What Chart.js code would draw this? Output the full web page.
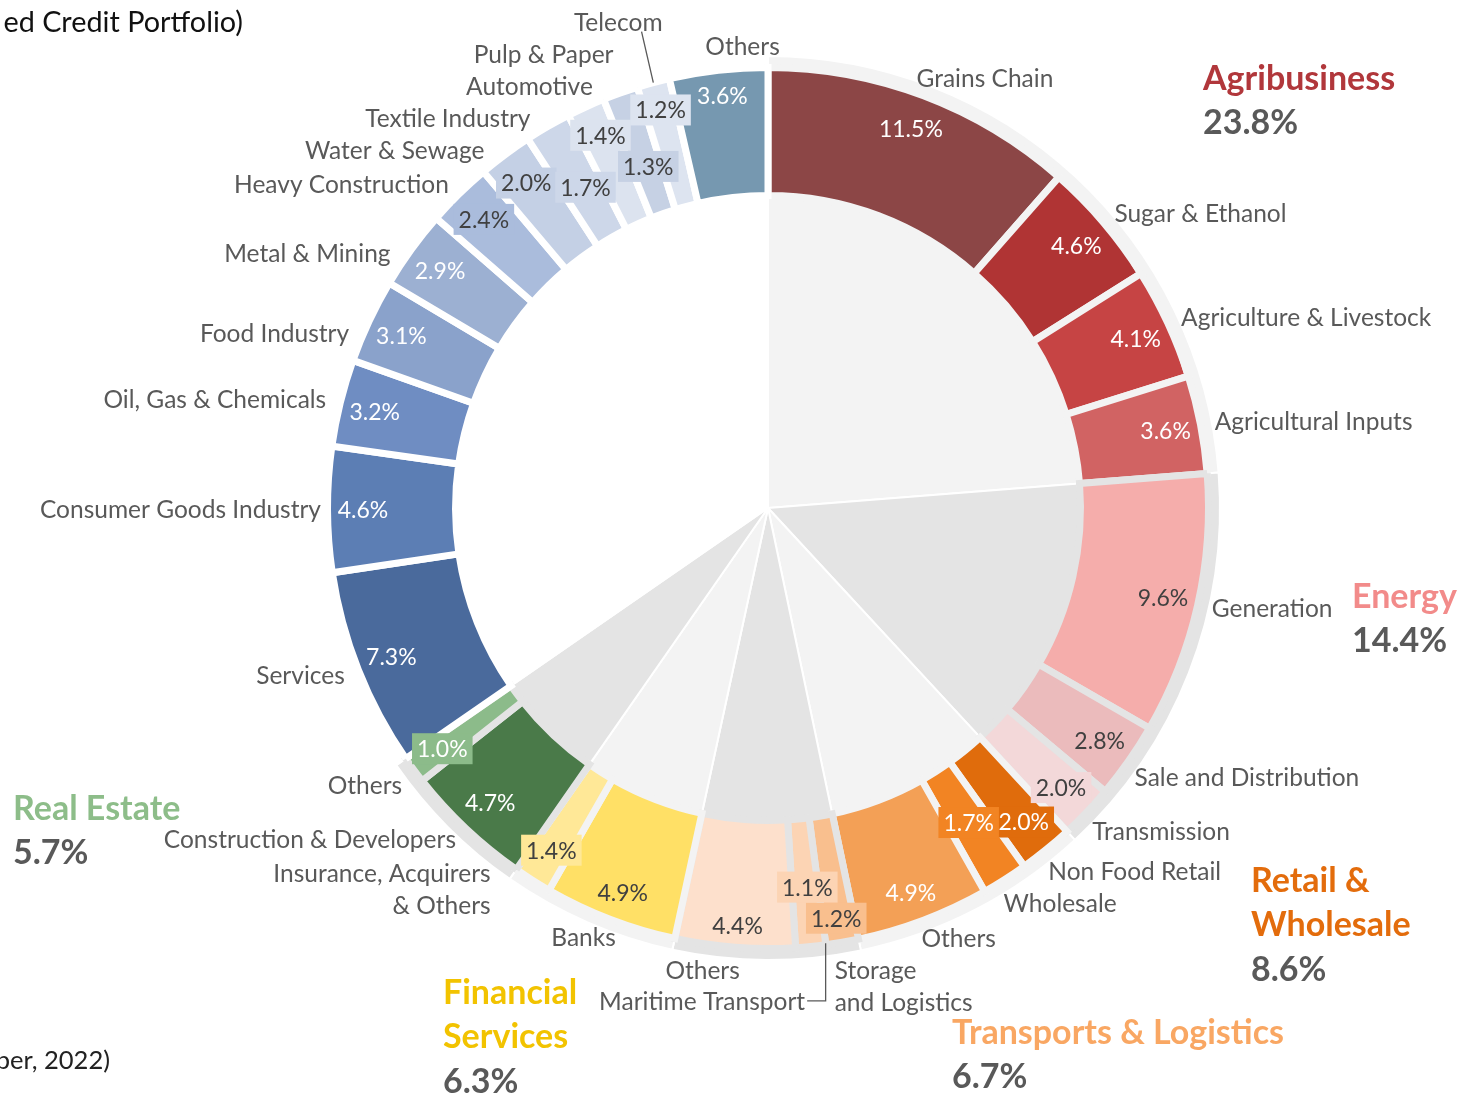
<!DOCTYPE html>
<html>
<head>
<meta charset="utf-8">
<script src="https://cdn.jsdelivr.net/npm/chart.js@4.4.1/dist/chart.umd.min.js"></script>
<style>
  html, body { margin: 0; padding: 0; background: #fff; }
  #wrap { position: relative; width: 1460px; height: 1095px; overflow: hidden; }
  #wrap canvas { position: absolute; left: 0; top: 0; }
</style>
</head>
<body>
<div id="wrap">
  <canvas id="groupCanvas" width="1460" height="1095"></canvas>
  <canvas id="ringCanvas" width="1460" height="1095"></canvas>
</div>
<script>
// ---- data (share of portfolio, %) ----
const segmentLabels = [
  'Grains Chain', 'Sugar & Ethanol', 'Agriculture & Livestock', 'Agricultural Inputs',
  'Generation', 'Sale and Distribution', 'Transmission',
  'Non Food Retail', 'Wholesale', 'Others',
  ['Storage', 'and Logistics'], 'Maritime Transport', 'Others',
  'Banks', ['Insurance, Acquirers', '& Others'],
  'Construction & Developers', 'Others',
  'Services', 'Consumer Goods Industry', 'Oil, Gas & Chemicals', 'Food Industry', 'Metal & Mining',
  'Heavy Construction', 'Water & Sewage', 'Textile Industry', 'Automotive', 'Pulp & Paper', 'Telecom', 'Others'
];
const segmentValues = [
  11.5, 4.6, 4.1, 3.6,
  9.6, 2.8, 2.0,
  2.0, 1.7, 4.9,
  1.2, 1.1, 4.4,
  4.9, 1.4,
  4.7, 1.0,
  7.3, 4.6, 3.2, 3.1, 2.9, 2.4, 2.0, 1.7, 1.4, 1.3, 1.2, 3.6
];
const segmentGroup = [0,0,0,0, 1,1,1, 2,2,2, 3,3,3, 4,4, 5,5, 6,6,6,6,6,6,6,6,6,6,6,6];

const groupTitles = [['Agribusiness'], ['Energy'], ['Retail &', 'Wholesale'], ['Transports & Logistics'], ['Financial', 'Services'], ['Real Estate'], []];
const groupShares = [23.8, 14.4, 8.6, 6.7, 6.3, 5.7, null];

// ---- styles ----
const segmentColors = [
  '#8c4646', '#b03434', '#c64444', '#d16363',
  '#f5adab', '#ebbbbc', '#f3d8d9',
  '#e06c0c', '#f28423', '#f3a056',
  '#f9bf8e', '#fcd4b4', '#fde0cc',
  '#ffe066', '#ffe897',
  '#4a7a49', '#8cbb8a',
  '#4a6a9c', '#5c7eb4', '#6f8dc2', '#8aa2cb', '#9cb0d2', '#aabcdc', '#c4d0e5', '#cdd7e9', '#dce3ef', '#c6d1e4', '#dde4f0', '#7698b0'
];
const whiteText = [0,1,2,3,7,8,9,15,16,17,18,19,20,21,28];
const boxedLabels = [6,7,8,10,11,14,16,22,23,24,25,26,27];
const groupFill = ['#f3f3f3', '#e4e4e4', '#f3f3f3', '#e4e4e4', '#f3f3f3', '#e4e4e4', '#ffffff'];
const groupTitleColors = ['#b1373b', '#f28b8a', '#e36c0c', '#f9a763', '#f2c300', '#8dbd89'];
const titleAnchors = [[1203, 78], [1352, 596], [1251, 880], [952, 1032], [443, 992], [13, 808]];

// label nudges (px) where the picture moves a label off its natural spot
const valueNudge = { 8:[-17,-27], 9:[0,6], 10:[0,11], 11:[0,-24], 12:[0,14], 13:[0,7],
  24:[20,30], 25:[0,-4], 26:[16,40], 27:[-2,-7], 28:[0,-10] };
const nameNudge = { 0:[-12,-4], 5:[-6,8], 6:[-5,9], 7:[-7,10], 8:[-9,11], 9:[-7,4], 10:[-10,30],
  11:[-7,40,'right'], 12:[6,8], 13:[11,4], 14:[-34,-3], 16:[0,7], 18:[8,0], 20:[-7,18], 21:[-9,12],
  23:[-12,7], 24:[-10,4], 25:[13,-8], 26:[-2,-25], 27:[13,-47], 28:[63,-10] };

const FONT = 'Lato, "Open Sans", sans-serif';
const LABEL_COLOR = '#595959';

// group totals built from the segments so the wedges line up with the ring
const groupValues = groupTitles.map((_, g) =>
  segmentValues.reduce((s, v, i) => segmentGroup[i] === g ? s + v : s, 0));

const pad = { left: 76, right: 0, top: 0, bottom: 79 };   // centre at (768, 508)

function drawBoxedText(ctx, text, x, y, fill, color){
  const w = ctx.measureText(text).width + 10;
  ctx.fillStyle = fill;
  ctx.fillRect(x - w / 2, y - 15.5, w, 31);
  ctx.fillStyle = color;
  ctx.fillText(text, x, y + 1);
}

const labelPlugin = {
  id: 'ringLabels',
  afterDraw(chart){
    const ctx = chart.ctx;
    const arcs = chart.getDatasetMeta(0).data;
    ctx.save();
    ctx.textBaseline = 'middle';

    arcs.forEach((arc, i) => {
      const mid = (arc.startAngle + arc.endAngle) / 2;
      const cos = Math.cos(mid), sin = Math.sin(mid);

      // value labels inside the ring
      const vr = arc.outerRadius - 35.5;
      const vn = valueNudge[i] || [0, 0];
      const vx = arc.x + vr * cos + vn[0], vy = arc.y + vr * sin + vn[1];
      const txt = segmentValues[i].toFixed(1) + '%';
      const tcol = whiteText.includes(i) ? '#ffffff' : '#404040';
      ctx.font = '23px ' + FONT;
      ctx.textAlign = 'center';
      if (boxedLabels.includes(i)) {
        drawBoxedText(ctx, txt, vx, vy, segmentColors[i], tcol);
      } else {
        ctx.fillStyle = tcol;
        ctx.fillText(txt, vx, vy + 1);
      }

      // category names outside
      const nr = arc.outerRadius + 14.5;
      const nn = nameNudge[i] || [0, 0];
      const nx = arc.x + nr * cos + nn[0], ny = arc.y + nr * sin + nn[1];
      const lines = Array.isArray(segmentLabels[i]) ? segmentLabels[i] : [segmentLabels[i]];
      ctx.font = '24.5px ' + FONT;
      ctx.textAlign = nn[2] || (cos >= 0 ? 'left' : 'right');
      ctx.fillStyle = LABEL_COLOR;
      lines.forEach((ln, k) => {
        ctx.fillText(ln, nx, ny + (k - (lines.length - 1) / 2) * 32 + 1);
      });

      // leader lines
      ctx.strokeStyle = '#595959';
      ctx.lineWidth = 1.3;
      if (segmentLabels[i] === 'Telecom') {
        ctx.beginPath();
        ctx.moveTo(arc.x + arc.outerRadius * cos, arc.y + arc.outerRadius * sin);
        ctx.lineTo(nx - 21, ny + 10);
        ctx.stroke();
      }
      if (segmentLabels[i] === 'Maritime Transport') {
        const px = arc.x + (arc.outerRadius - 1.5) * Math.cos(arc.startAngle);
        const py = arc.y + (arc.outerRadius - 1.5) * Math.sin(arc.startAngle);
        ctx.beginPath();
        ctx.moveTo(nx + 2, ny);
        ctx.lineTo(px, ny);
        ctx.lineTo(px, py);
        ctx.stroke();
      }
    });

    // group titles and shares
    groupTitles.forEach((lines, g) => {
      if (!lines.length) return;
      const [x, y] = titleAnchors[g];
      ctx.textAlign = 'left';
      ctx.font = 'bold 34px ' + FONT;
      ctx.fillStyle = groupTitleColors[g];
      lines.forEach((ln, k) => ctx.fillText(ln, x, y + k * 44.5 + 1));
      ctx.fillStyle = LABEL_COLOR;
      ctx.fillText(groupShares[g].toFixed(1) + '%', x, y + lines.length * 44.5 + 1);
    });

    // cropped caption fragments at the left edge
    ctx.fillStyle = '#111111';
    ctx.textAlign = 'right';
    ctx.font = '28.8px ' + FONT;
    ctx.fillText('ed Credit Portfolio)', 243, 23);
    ctx.fillStyle = '#222222';
    ctx.font = '25.5px ' + FONT;
    ctx.fillText('ber, 2022)', 110, 1061);
    ctx.restore();
  }
};

function build(){
  new Chart(document.getElementById('groupCanvas'), {
    type: 'pie',
    data: {
      labels: groupTitles.map((t, g) => t.join(' ') || 'Other industries'),
      datasets: [{
        data: groupValues,
        backgroundColor: groupFill,
        borderColor: '#ffffff',
        borderWidth: 2,
        radius: 452
      }]
    },
    options: {
      responsive: false,
      animation: false,
      events: [],
      layout: { padding: pad },
      plugins: { legend: { display: false }, tooltip: { enabled: false } }
    }
  });

  new Chart(document.getElementById('ringCanvas'), {
    type: 'doughnut',
    data: {
      labels: segmentLabels,
      datasets: [{
        data: segmentValues,
        backgroundColor: segmentColors,
        borderColor: segmentGroup.map(g => groupFill[g]),
        borderWidth: 7,
        borderAlign: 'center',
        borderJoinStyle: 'miter',
        radius: 440.5,
        cutout: (312.5 / 440.5 * 100).toFixed(2) + '%'
      }]
    },
    options: {
      responsive: false,
      animation: false,
      events: [],
      layout: { padding: pad },
      plugins: { legend: { display: false }, tooltip: { enabled: false } }
    },
    plugins: [labelPlugin]
  });
}

Promise.all([
  document.fonts.load('23px Lato'),
  document.fonts.load('bold 34px Lato')
]).then(build, build);
</script>
</body>
</html>
